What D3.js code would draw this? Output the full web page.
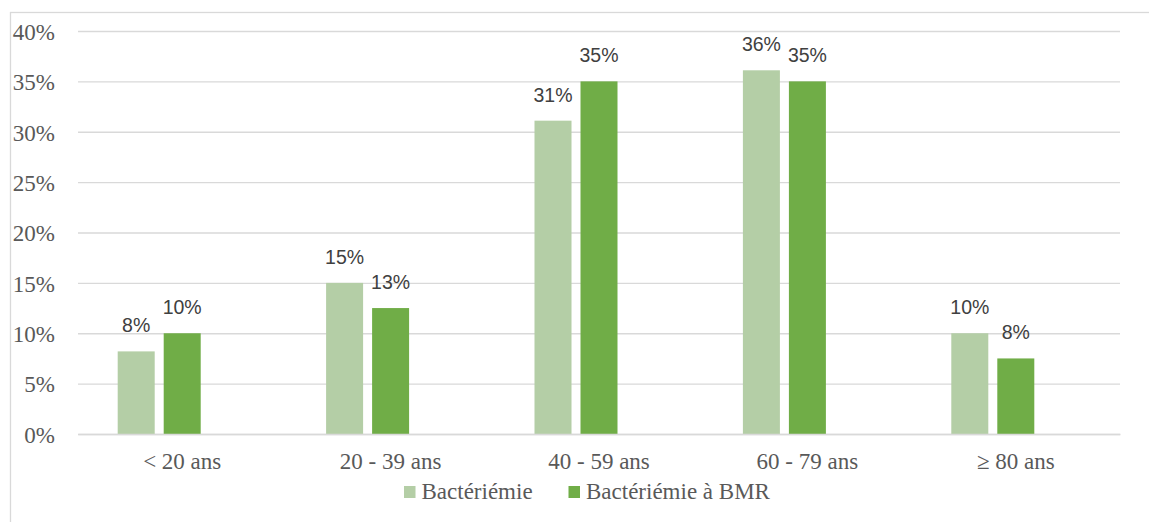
<!DOCTYPE html>
<html>
<head>
<meta charset="utf-8">
<script src="https://cdn.jsdelivr.net/npm/d3@7"></script>
<style>
  html, body { margin: 0; padding: 0; background: #fff; }
  svg { display: block; }
</style>
</head>
<body>
<svg id="chart" width="1149" height="522"></svg>
<script>
// ---- Data ----
const categories = ["< 20 ans", "20 - 39 ans", "40 - 59 ans", "60 - 79 ans", "\u2265 80 ans"];
const seriesNames = ["Bactériémie", "Bactériémie à BMR"];
const bacteriemie = [8.2, 15, 31.1, 36.1, 10];
const bacteriemieBMR = [10, 12.5, 35, 35, 7.5];
const labelsBacteriemie = ["8%", "15%", "31%", "36%", "10%"];
const labelsBMR = ["10%", "13%", "35%", "35%", "8%"];
const yTicks = [0, 5, 10, 15, 20, 25, 30, 35, 40];

// ---- Layout ----
const svg = d3.select("#chart");
const W = 1149, H = 522;
const plot = { left: 78, right: 1120, top: 31, bottom: 434 };
const colors = ["#B4CEA6", "#70AD47"];
const serif = "'Liberation Serif', 'Times New Roman', serif";
const sans = "'Liberation Sans', Arial, sans-serif";

// chart area border (extends past the picture on right/bottom)
svg.append("rect")
  .attr("x", 10.5).attr("y", 12.5)
  .attr("width", W + 20).attr("height", H + 20)
  .attr("fill", "none").attr("stroke", "#d9d9d9").attr("stroke-width", 1.3);

const x0 = d3.scaleBand().domain(categories).range([plot.left, plot.right]).padding(0);
// three slots per group (third slot is an empty series, as in the original)
const slotKeys = [seriesNames[0], seriesNames[1], "_empty"];
const x1 = d3.scaleBand().domain(slotKeys).range([0, x0.bandwidth()])
  .paddingInner(0.1957).paddingOuter(0.863);
const y = d3.scaleLinear().domain([0, 40]).range([plot.bottom, plot.top]);

// gridlines
const yAxis = d3.axisLeft(y).tickValues(yTicks).tickSize(-(plot.right - plot.left))
  .tickFormat(d => d + "%").tickPadding(23);
const gy = svg.append("g").attr("transform", `translate(${plot.left},0)`).call(yAxis);
gy.select(".domain").remove();
gy.selectAll(".tick line").attr("stroke", "#d9d9d9").attr("stroke-width", 1.3);
gy.selectAll(".tick text")
  .attr("fill", "#595959")
  .style("font-family", serif).style("font-size", "23px")
  .attr("dy", "0.36em");

// bars
const seriesData = [bacteriemie, bacteriemieBMR];
const seriesLabels = [labelsBacteriemie, labelsBMR];
seriesData.forEach((vals, si) => {
  const g = svg.append("g");
  g.selectAll("rect").data(vals).join("rect")
    .attr("x", (d, i) => x0(categories[i]) + x1(seriesNames[si]))
    .attr("y", d => y(d))
    .attr("width", x1.bandwidth())
    .attr("height", d => y(0) - y(d))
    .attr("fill", colors[si]);
  g.selectAll("text").data(vals).join("text")
    .attr("x", (d, i) => x0(categories[i]) + x1(seriesNames[si]) + x1.bandwidth() / 2)
    .attr("y", d => y(d) - 19)
    .attr("text-anchor", "middle")
    .attr("fill", "#404040")
    .style("font-family", sans).style("font-size", "19.5px")
    .text((d, i) => seriesLabels[si][i]);
});

// x axis
const xAxis = d3.axisBottom(x0).tickSize(0).tickPadding(28);
const gx = svg.append("g").attr("transform", `translate(0,${plot.bottom})`).call(xAxis);
gx.select(".domain").attr("stroke", "#d9d9d9").attr("stroke-width", 1.3);
gx.selectAll(".tick text")
  .attr("fill", "#595959")
  .style("font-family", serif).style("font-size", "23px")
  .attr("dy", "0.3em");

// legend
const legendItems = [
  { name: seriesNames[0], color: colors[0], x: 404 },
  { name: seriesNames[1], color: colors[1], x: 568.5 }
];
const lg = svg.append("g");
legendItems.forEach(it => {
  lg.append("rect").attr("x", it.x).attr("y", 486).attr("width", 11.5).attr("height", 12).attr("fill", it.color);
  lg.append("text").attr("x", it.x + 17.5).attr("y", 499)
    .attr("fill", "#595959")
    .style("font-family", serif).style("font-size", "23px")
    .text(it.name);
});
</script>
</body>
</html>
